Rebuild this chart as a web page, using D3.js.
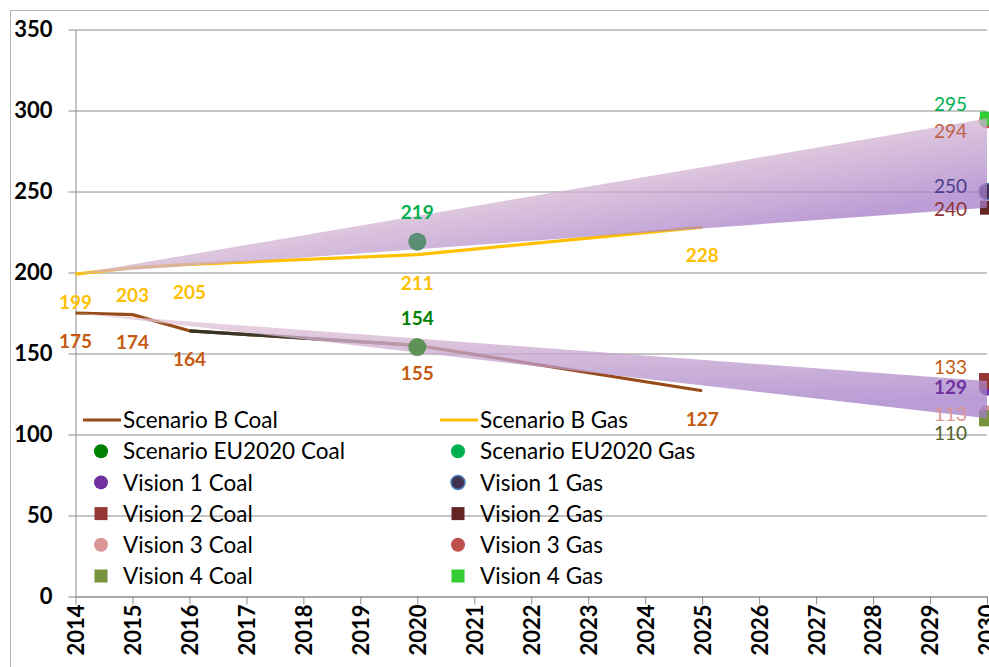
<!DOCTYPE html>
<html>
<head>
<meta charset="utf-8">
<script src="https://cdn.jsdelivr.net/npm/d3@7"></script>
<style>
  body { margin: 0; background: #fff; }
  svg { display: block; font-family: Lato, "Open Sans", sans-serif; }
</style>
</head>
<body>
<script>
// ---- data ----
const yearTicks = [2014, 2015, 2016, 2017, 2018, 2019, 2020, 2021, 2022,
                   2023, 2024, 2025, 2026, 2027, 2028, 2029, 2030];
const valueTicks = [0, 50, 100, 150, 200, 250, 300, 350];

const scenarioBYears = [2014, 2015, 2016, 2020, 2025];
const scenarioBCoal = [175, 174, 164, 155, 127];
const scenarioBGas = [199, 203, 205, 211, 228];

const eu2020Year = 2020;
const eu2020Coal = 154;
const eu2020Gas = 219;

const visionYear = 2030;
const visionNames = ["Vision 1", "Vision 2", "Vision 3", "Vision 4"];
const visionCoal = [129, 133, 113, 110];
const visionGas = [250, 240, 294, 295];

const bandYears = [2014, 2030];
const coalBandLow = [175, 110];
const coalBandHigh = [175, 133];
const gasBandLow = [199, 240];
const gasBandHigh = [199, 295];

// ---- styles ----
const W = 989, H = 667;
const coalColor = "#974b18", gasColor = "#ffc000";
const coalLabel = "#c55a11";
const visionStyle = {
  coal: [
    { shape: "circle", fill: "#7030a0", label: "#7030a0", bold: true, dy: 0 },
    { shape: "square", fill: "#953735", label: "#c55a11", dy: -14 },
    { shape: "circle", fill: "#d99694", label: "#d99694", dy: 1 },
    { shape: "square", fill: "#77933c", label: "#4f6228", dy: 15 }
  ],
  gas: [
    { shape: "circle", fill: "#3f3151", stroke: "#4f81bd", label: "#4b3f8c", dy: -5 },
    { shape: "square", fill: "#632523", label: "#8c3232", dy: 1.5 },
    { shape: "circle", fill: "#c0504d", label: "#c0604a", dy: 11 },
    { shape: "square", fill: "#33cc33", label: "#00b050", dy: -14.5 }
  ]
};

const x = d3.scaleLinear().domain([2014, 2030]).range([75.5, 987]);
const y = d3.scaleLinear().domain([0, 350]).range([596.5, 29.5]);

const svg = d3.select("body").append("svg").attr("width", W).attr("height", H);

const defs = svg.append("defs");
function grad(id, c0, c1, v) {
  const g = defs.append("linearGradient").attr("id", id)
    .attr("x1", v[0]).attr("y1", v[1]).attr("x2", v[2]).attr("y2", v[3]);
  g.append("stop").attr("offset", "0%").attr("stop-color", c0);
  g.append("stop").attr("offset", "100%").attr("stop-color", c1);
}
// gas: shade runs from the upper edge to the lower edge of the range
grad("gasBand", "rgb(210,180,210)", "rgb(165,124,200)", [0.5, 0.5, 0.74, 0.74]);
grad("coalBand", "rgb(232,204,214)", "rgb(162,124,200)", [0, 0, 0.25, 1]);
const seg = defs.append("linearGradient").attr("id", "coalSeg")
  .attr("gradientUnits", "userSpaceOnUse")
  .attr("x1", x(2016)).attr("x2", x(2020)).attr("y1", 0).attr("y2", 0);
seg.append("stop").attr("offset", "0%").attr("stop-color", "#2e3224");
seg.append("stop").attr("offset", "60%").attr("stop-color", "#4a4332");
seg.append("stop").attr("offset", "100%").attr("stop-color", "#8a5a3a");

// chart border
svg.append("path").attr("d", `M10.5,${H} V10.5 H${W}`)
  .attr("fill", "none").attr("stroke", "#b4b4b4");

// gridlines
svg.append("g")
  .attr("transform", "translate(75.5,0)")
  .call(d3.axisLeft(y).tickValues(valueTicks).tickSize(-(987 - 75.5)).tickFormat(""))
  .call(g => g.select(".domain").remove())
  .call(g => g.selectAll("line").attr("stroke", "#8c8c8c"));

// y axis
svg.append("g")
  .attr("transform", "translate(75.5,0)")
  .call(d3.axisLeft(y).tickValues(valueTicks).tickSize(7).tickSizeOuter(0).tickPadding(16))
  .call(g => g.select(".domain").attr("stroke", "#8c8c8c"))
  .call(g => g.selectAll("line").attr("stroke", "#8c8c8c"))
  .call(g => g.selectAll("text")
    .attr("font-family", "Lato, sans-serif").attr("font-size", 22)
    .attr("font-weight", "bold").attr("fill", "#000"));

// x axis
svg.append("g")
  .attr("transform", "translate(0,596.5)")
  .call(d3.axisBottom(x).tickValues(yearTicks).tickFormat(d3.format("d")).tickSize(8).tickSizeOuter(0))
  .call(g => g.select(".domain").attr("stroke", "#8c8c8c"))
  .call(g => g.selectAll("line").attr("stroke", "#8c8c8c"))
  .call(g => g.selectAll("text")
    .attr("font-family", "Lato, sans-serif").attr("font-size", 22)
    .attr("font-weight", "bold").attr("fill", "#000")
    .attr("text-anchor", "end")
    .attr("transform", "translate(0,8) rotate(-90)")
    .attr("x", 0).attr("y", 0).attr("dx", 0).attr("dy", "0.36em"));

// scenario B lines
const line = d3.line().x(d => x(d[0])).y(d => y(d[1]));
const coalPts = scenarioBYears.map((yr, i) => [yr, scenarioBCoal[i]]);
const gasPts = scenarioBYears.map((yr, i) => [yr, scenarioBGas[i]]);

svg.append("path").datum(coalPts).attr("d", line)
  .attr("fill", "none").attr("stroke", coalColor).attr("stroke-width", 3.2)
  .attr("stroke-linejoin", "round");
svg.append("path").datum(coalPts.filter(d => d[0] >= 2016 && d[0] <= 2020)).attr("d", line)
  .attr("fill", "none").attr("stroke", "url(#coalSeg)").attr("stroke-width", 3.2);
svg.append("path").datum(gasPts).attr("d", line)
  .attr("fill", "none").attr("stroke", gasColor).attr("stroke-width", 3.2)
  .attr("stroke-linejoin", "round");

// vision markers at 2030
function marker(g, st, cx, cy, r, sq) {
  if (st.shape === "circle") {
    g.append("circle").attr("cx", cx).attr("cy", cy).attr("r", r)
      .attr("fill", st.fill)
      .attr("stroke", st.stroke || "none").attr("stroke-width", st.stroke ? 1.5 : 0);
  } else {
    g.append("rect").attr("x", cx - sq / 2).attr("y", cy - sq / 2)
      .attr("width", sq).attr("height", sq).attr("fill", st.fill);
  }
}
const mk = svg.append("g");
["circle", "square"].forEach(shape => {
  visionNames.forEach((n, i) => {
    const sc = visionStyle.coal[i], sg = visionStyle.gas[i];
    if (sc.shape === shape) marker(mk, sc, x(visionYear), y(visionCoal[i]), 8, 16);
    if (sg.shape === shape) marker(mk, sg, x(visionYear), y(visionGas[i]), 8, 14);
  });
});

// shaded ranges
const band = d3.area().x(d => x(d[0])).y0(d => y(d[1])).y1(d => y(d[2]));
svg.append("path")
  .datum(bandYears.map((yr, i) => [yr, gasBandLow[i], gasBandHigh[i]]))
  .attr("d", band).attr("fill", "url(#gasBand)").attr("fill-opacity", 0.75);
svg.append("path")
  .datum(bandYears.map((yr, i) => [yr, coalBandLow[i], coalBandHigh[i]]))
  .attr("d", band).attr("fill", "url(#coalBand)").attr("fill-opacity", 0.75);

// EU2020 markers
svg.append("circle").attr("cx", x(eu2020Year)).attr("cy", y(eu2020Gas)).attr("r", 9)
  .attr("fill", "#5b8e74");
svg.append("circle").attr("cx", x(eu2020Year)).attr("cy", y(eu2020Coal)).attr("r", 9)
  .attr("fill", "#5f9256");

// data labels
const lab = svg.append("g").attr("font-family", "Lato, sans-serif").attr("font-size", 19);
function label(tx, ty, txt, color, bold, anchor) {
  lab.append("text").attr("x", tx).attr("y", ty).attr("dy", "0.36em")
    .attr("text-anchor", anchor || "middle").attr("fill", color)
    .attr("font-weight", bold ? "bold" : "normal").text(txt);
}
scenarioBYears.forEach((yr, i) => {
  label(x(yr), y(scenarioBGas[i]) + 28, scenarioBGas[i], gasColor, true);
  label(x(yr), y(scenarioBCoal[i]) + 28, scenarioBCoal[i], coalLabel, true);
});
label(x(eu2020Year), y(eu2020Gas) - 30, eu2020Gas, "#00b050", true);
label(x(eu2020Year), y(eu2020Coal) - 29, eu2020Coal, "#008000", true);
visionNames.forEach((n, i) => {
  const sc = visionStyle.coal[i], sg = visionStyle.gas[i];
  label(x(visionYear) - 20, y(visionCoal[i]) + sc.dy, visionCoal[i], sc.label, sc.bold, "end");
  label(x(visionYear) - 20, y(visionGas[i]) + sg.dy, visionGas[i], sg.label, sg.bold, "end");
});

// legend
const legendCols = [
  [{ name: "Scenario B Coal", line: coalColor },
   { name: "Scenario EU2020 Coal", shape: "circle", fill: "#008000" },
   ...visionNames.map((n, i) => ({ name: n + " Coal", ...visionStyle.coal[i] }))],
  [{ name: "Scenario B Gas", line: gasColor },
   { name: "Scenario EU2020 Gas", shape: "circle", fill: "#00b050" },
   ...visionNames.map((n, i) => ({ name: n + " Gas", ...visionStyle.gas[i] }))]
];
const leg = svg.append("g").attr("font-family", "Lato, sans-serif").attr("font-size", 22.5);
legendCols.forEach((col, c) => {
  const lx = c === 0 ? 101 : 458;
  col.forEach((it, r) => {
    const ly = 420 + r * 31.2;
    if (it.line) {
      leg.append("line").attr("x1", lx - 18).attr("x2", lx + 20)
        .attr("y1", ly).attr("y2", ly).attr("stroke", it.line).attr("stroke-width", 3.2);
    } else {
      marker(leg, it, lx, ly, 7, 13);
    }
    leg.append("text").attr("x", lx + 22).attr("y", ly).attr("dy", "0.36em")
      .attr("fill", "#000").text(it.name);
  });
});
</script>
</body>
</html>
